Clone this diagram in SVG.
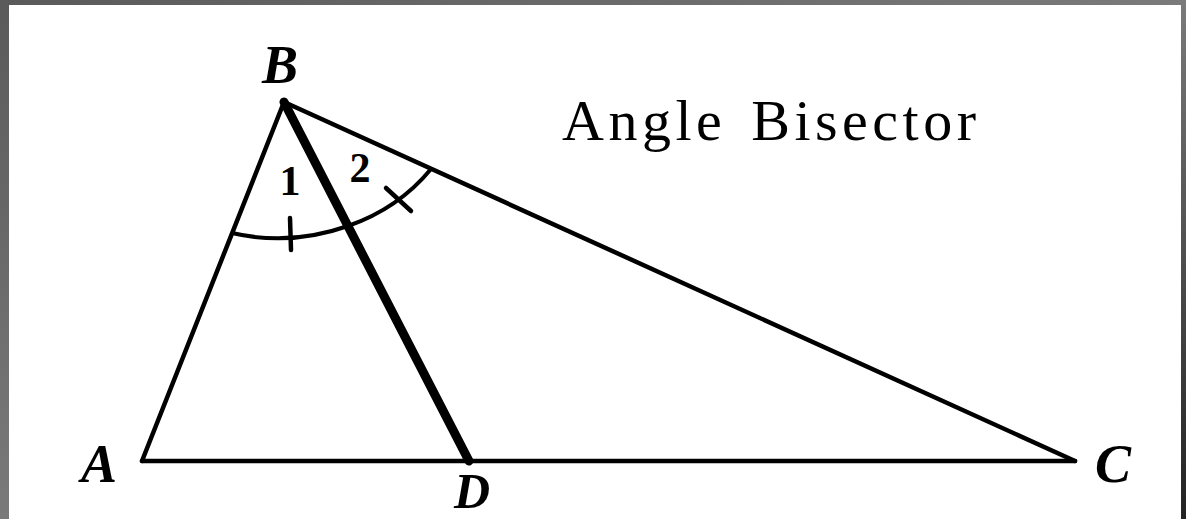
<svg xmlns="http://www.w3.org/2000/svg" width="1186" height="519" viewBox="0 0 1186 519">
<defs>
<linearGradient id="frame" x1="0" y1="0" x2="1" y2="1">
<stop offset="0" stop-color="#5a5a5a"/>
<stop offset="0.5" stop-color="#7a7a7a"/>
<stop offset="1" stop-color="#222"/>
</linearGradient>
<style>
.ln{stroke:#000;stroke-width:4.5;fill:none;stroke-linecap:round}
.bis{stroke:#000;stroke-width:9;fill:none;stroke-linecap:round}
.arc{stroke:#000;stroke-width:4;fill:none}
.pt{font-family:"Liberation Serif",serif;font-weight:bold;font-style:italic;font-size:54px;fill:#000}
.num{font-family:"Liberation Serif",serif;font-weight:bold;font-size:42px;fill:#000}
.title{font-family:"Liberation Serif",serif;font-size:58px;letter-spacing:4.5px;word-spacing:6px;fill:#000}
</style>
</defs>
<rect x="0" y="0" width="1186" height="519" fill="url(#frame)"/>
<rect x="9" y="5" width="1172" height="514" fill="#fff"/>
<g id="connectors">
<line class="ln" x1="142" y1="461" x2="284" y2="102"/>
<line class="ln" x1="284" y1="102" x2="1075" y2="461"/>
<line class="ln" x1="142" y1="461" x2="1075" y2="461"/>
<line class="bis" x1="284" y1="102" x2="469" y2="461"/>
</g>
<g id="angle-marks">
<path class="arc" d="M232,233 Q290,246.5 348,226"/>
<path class="arc" d="M348,226 Q398.5,208.5 431,169"/>
<line class="ln" x1="290" y1="218" x2="291" y2="250"/>
<line class="ln" x1="386" y1="188" x2="411" y2="211"/>
<text class="num" x="290" y="195" text-anchor="middle">1</text>
<text class="num" x="360" y="182" text-anchor="middle">2</text>
</g>
<g id="node-B"><text class="pt" x="280" y="83" text-anchor="middle">B</text></g>
<g id="node-A"><text class="pt" x="99" y="482" text-anchor="middle">A</text></g>
<g id="node-D"><text class="pt" x="472" y="508" text-anchor="middle" style="font-size:50px">D</text></g>
<g id="node-C"><text class="pt" x="1113" y="482" text-anchor="middle">C</text></g>
<g id="title"><text class="title" x="562" y="140">Angle Bisector</text></g>
</svg>
